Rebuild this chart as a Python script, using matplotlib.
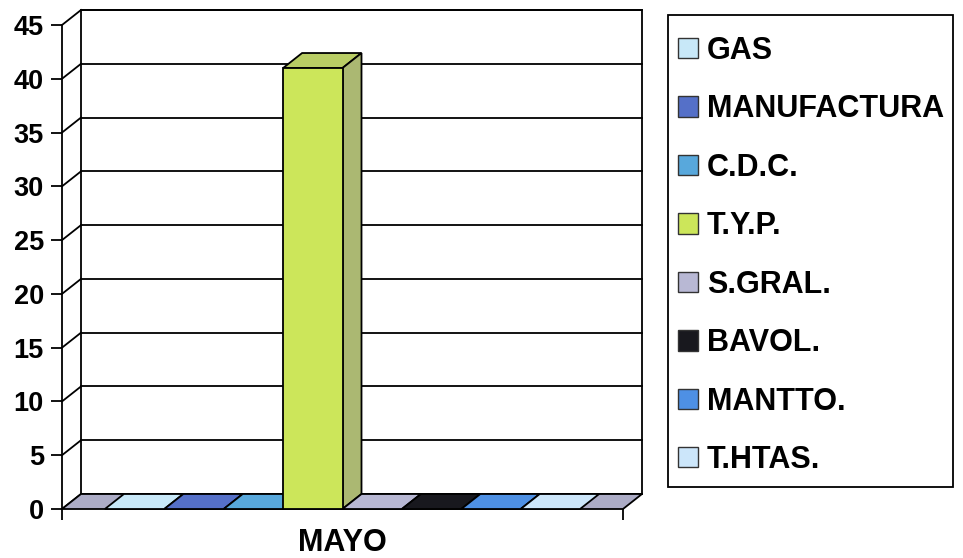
import matplotlib
matplotlib.use("Agg")
import matplotlib.pyplot as plt
from matplotlib.patches import Polygon, Patch, Rectangle
import matplotlib.colors as mcolors
import numpy as np

plt.rcParams['font.family'] = ['Liberation Sans', 'DejaVu Sans']
plt.rcParams['font.weight'] = 'bold'

# ---- data ----
month = "MAYO"
series = ["GAS", "MANUFACTURA", "C.D.C.", "T.Y.P.", "S.GRAL.", "BAVOL.", "MANTTO.", "T.HTAS."]
values = [0, 0, 0, 41, 0, 0, 0, 0]
colors = ["#C8E8F8", "#5570C8", "#58A8DC", "#CCE65A", "#B8B8D4", "#18181E", "#4E90E4", "#CCE6FA"]
y_ticks = [0, 5, 10, 15, 20, 25, 30, 35, 40, 45]
floor_color = "#ACACC6"

# ---- figure / front plane ----
W, H = 963, 558
fig = plt.figure(figsize=(W / 100, H / 100), dpi=100)
L, R, B, T = 62, 623, 509, 25          # front plane in pixels
ax = fig.add_axes([L / W, (H - B) / H, (R - L) / W, (B - T) / H])
ax.set_xlim(0, 1)
ax.set_ylim(0, 45)
ax.patch.set_alpha(0)
for s in ("top", "right", "bottom"):
    ax.spines[s].set_visible(False)
ax.spines["left"].set_linewidth(1.3)

# oblique depth offset (pixels -> data units)
depth_px = (19, 15)
ddx = depth_px[0] / (R - L) * 1.0
ddy = depth_px[1] / (B - T) * 45.0

lw = 1.3
# back wall
ax.add_patch(Polygon([(ddx, ddy), (1 + ddx, ddy), (1 + ddx, 45 + ddy), (ddx, 45 + ddy)],
                     closed=True, facecolor="white", edgecolor="black", lw=lw,
                     clip_on=False, zorder=0))
for t in y_ticks:
    ax.plot([ddx, 1 + ddx], [t + ddy, t + ddy], color="black", lw=lw, clip_on=False, zorder=1)
    ax.plot([0, ddx], [t, t + ddy], color="black", lw=lw, clip_on=False, zorder=1)

# floor
ax.add_patch(Polygon([(0, 0), (1, 0), (1 + ddx, ddy), (ddx, ddy)], closed=True,
                     facecolor=floor_color, edgecolor="black", lw=lw, clip_on=False, zorder=2))


def mix(c, other, f):
    a = np.array(mcolors.to_rgb(c))
    b = np.array(mcolors.to_rgb(other))
    return tuple(a * (1 - f) + b * f)


# bars
group = 0.847
bw = group / len(series)
x0 = (1 - group) / 2
for i, (v, c) in enumerate(zip(values, colors)):
    xl = x0 + i * bw
    xr = xl + bw
    top = [(xl, v), (xr, v), (xr + ddx, v + ddy), (xl + ddx, v + ddy)]
    ax.add_patch(Polygon(top, closed=True, facecolor=mix(c, "#808080", 0.25) if v > 0 else c,
                         edgecolor="black", lw=lw, clip_on=False, zorder=3))
    if v > 0:
        side = [(xr, 0), (xr + ddx, ddy), (xr + ddx, v + ddy), (xr, v)]
        ax.add_patch(Polygon(side, closed=True, facecolor=mix(c, "#8a8a8a", 0.5),
                             edgecolor="black", lw=lw, clip_on=False, zorder=3))
        front = [(xl, 0), (xr, 0), (xr, v), (xl, v)]
        ax.add_patch(Polygon(front, closed=True, facecolor=c,
                             edgecolor="black", lw=lw, clip_on=False, zorder=4))

# axes ticks
ax.set_yticks(y_ticks)
ax.tick_params(axis="y", direction="out", length=8, width=1.3, labelsize=19.5, pad=5)
ax.set_xticks([0, 1], labels=["", ""])
ax.tick_params(axis="x", which="major", direction="out", length=8, width=1.3)
ax.set_xticks([0.5], labels=[month], minor=True)
ax.tick_params(axis="x", which="minor", length=0, labelsize=22, pad=14)

# legend: frame box plus entries
fig.add_artist(Rectangle((668 / W, 1 - 487 / H), (953 - 668) / W, (487 - 15) / H,
                         transform=fig.transFigure, facecolor="white",
                         edgecolor="black", lw=1.3, zorder=1))
handles = [Patch(facecolor=c, edgecolor="#333333", lw=1.0, label=s) for s, c in zip(series, colors)]
leg = fig.legend(handles=handles, loc="upper left", bbox_to_anchor=(678 / W, 1 - 36 / H),
                 frameon=False, fontsize=22, handlelength=0.65, handleheight=0.65,
                 handletextpad=0.3, borderpad=0, labelspacing=0.93, borderaxespad=0)
leg.set_zorder(2)

fig.savefig("out.png", dpi=100)
